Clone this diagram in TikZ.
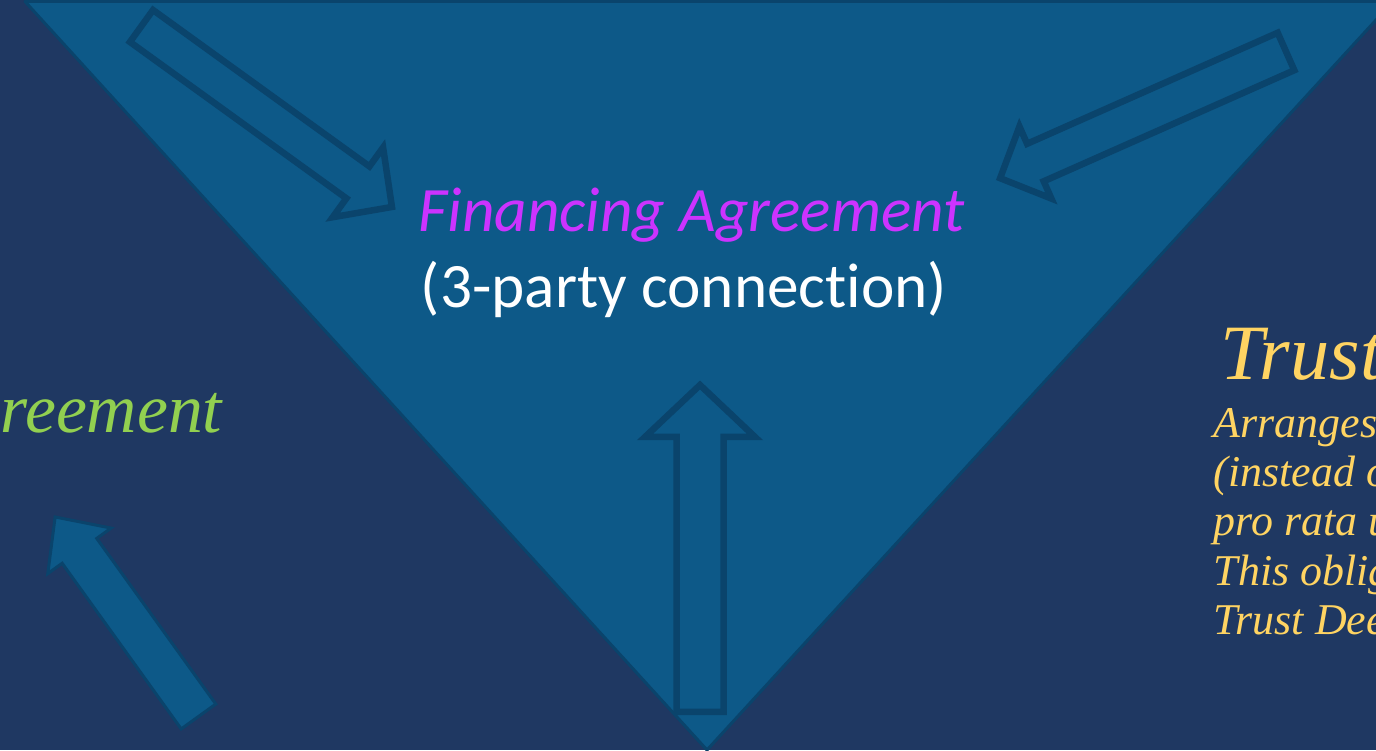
\documentclass[tikz,border=0pt]{standalone}
\usepackage{fontspec}
\usepackage{tikz}
\usetikzlibrary{positioning}
\newfontfamily\carlito[Ligatures=NoCommon]{Carlito}
\newfontfamily\serifit{Liberation Serif}
\definecolor{navy}{RGB}{31,56,98}
\definecolor{lagoon}{RGB}{13,89,136}
\definecolor{deeplagoon}{RGB}{10,68,108}
\definecolor{orchid}{RGB}{204,51,255}
\definecolor{leafgreen}{RGB}{146,208,80}
\definecolor{gold}{RGB}{255,212,98}

% block arrow: style, tail centre, angle, length, half shaft, half head, head length
\newcommand{\blockarrow}[7]{%
  \draw[#1, shift={#2}, rotate=#3] (0,-#5) -- ({#4-#7},-#5) -- ({#4-#7},-#6) -- (#4,0)
    -- ({#4-#7},#6) -- ({#4-#7},#5) -- (0,#5) -- cycle;}

\begin{document}
\begin{tikzpicture}[
    hollowarrow/.style={deeplagoon, line width=0.065cm, line join=miter},
    filledarrow/.style={draw=deeplagoon, fill=lagoon, line width=0.03cm},
    body/.style={anchor=base west, text=gold, inner sep=0, font=\serifit\itshape\fontsize{12.5}{14}\selectfont}
  ]
        % Frame and background
        \useasboundingbox (0,0) rectangle (13.76,7.5);
        \clip (0,0) rectangle (13.76,7.5);
        \fill[navy] (0,0) rectangle (13.76,7.5);

        % Inverted triangle
        \draw[deeplagoon, line width=0.03cm, line join=round, fill=lagoon] (0.25,7.485) -- (13.93,7.485) -- (7.07,0) -- cycle;

        % Arrows pointing into the triangle
        \blockarrow{hollowarrow}{(1.415,7.24)}{-35.85}{3.09}{0.197}{0.43}{0.42}
        \blockarrow{hollowarrow}{(12.86,6.985)}{203.9}{3.127}{0.205}{0.394}{0.386}
        \blockarrow{hollowarrow}{(7.0,0.38)}{90}{3.27}{0.235}{0.55}{0.52}
        \blockarrow{filledarrow}{(1.985,0.335)}{125.7}{2.457}{0.213}{0.39}{0.417}

        % Centre text
        \node[anchor=base, text=orchid, inner sep=0, font=\carlito\itshape\fontsize{18}{21.6}\selectfont] (fin) at (6.915,5.18) {Financing Agreement};
        \node[anchor=base, text=white, inner sep=0, font=\carlito\fontsize{18}{21.6}\selectfont] (conn) at (6.84,4.42) {(3-party connection)};

        % Side texts
        \node[anchor=base west, text=leafgreen, inner sep=0, font=\serifit\itshape\fontsize{19.8}{23}\selectfont] (loan) at (0,3.17) {reement};
        \node[anchor=base west, text=gold, inner sep=0, font=\serifit\itshape\fontsize{22.3}{26}\selectfont] (trust) at (12.2,3.70) {Trust};
        \foreach \line [count=\i] in {Arranges, {(instead o}, pro rata u, This oblig, Trust Dee}
            \node[body] (body\i) at (12.13,{3.12-0.49*(\i-1)}) {\line};
\end{tikzpicture}
\end{document}
